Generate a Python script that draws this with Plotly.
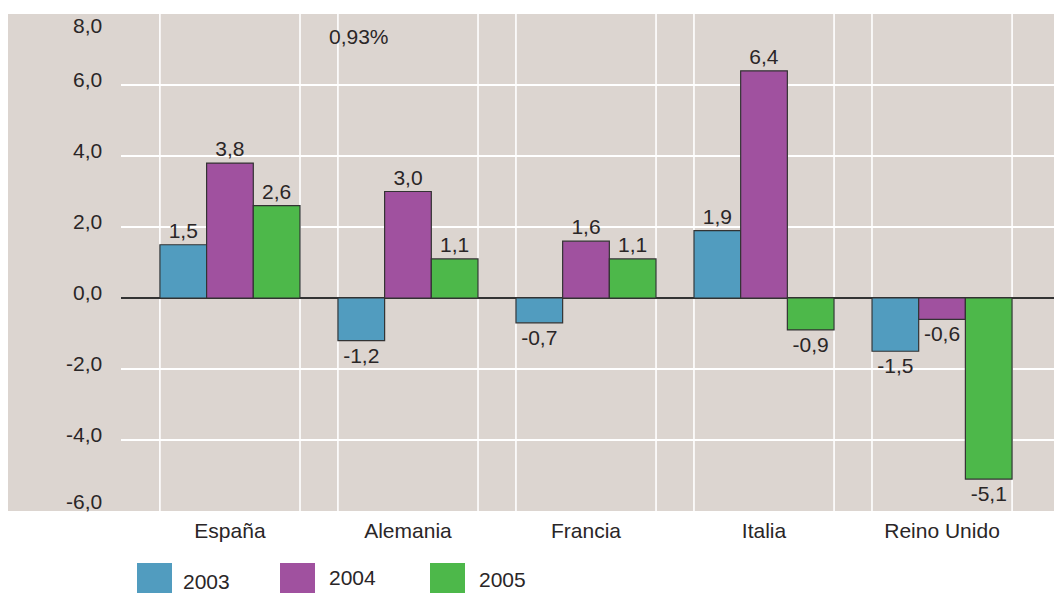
import plotly.graph_objects as go

# Data
countries = ["España", "Alemania", "Francia", "Italia", "Reino Unido"]
years = ["2003", "2004", "2005"]
v2003 = [1.5, -1.2, -0.7, 1.9, -1.5]
v2004 = [3.8, 3.0, 1.6, 6.4, -0.6]
v2005 = [2.6, 1.1, 1.1, -0.9, -5.1]
series = [v2003, v2004, v2005]
colors = ["#519CBF", "#A0519F", "#4DB84A"]
ytick_vals = [8, 6, 4, 2, 0, -2, -4, -6]
note_text = "0,93%"

# Layout geometry (pixels)
W, H = 1054, 593
ML, MR, MT, MB = 121, 0, 14, 82
PW, PH = W - ML - MR, H - MT - MB
BG = "#DCD5D0"
TXT = "#2A2627"
FONT = "Liberation Sans, Arial, sans-serif"
FS = 21
BARGAP = 0.213


def px_x(px):
    return (px - ML) / PW


def px_y(py):
    return (H - MB - py) / PH


def fmt(v):
    return f"{v:.1f}".replace(".", ",")


fig = go.Figure()
for name, vals, col in zip(years, series, colors):
    fig.add_trace(go.Bar(
        x=countries, y=vals, name=name,
        marker=dict(color=col, line=dict(color="#333333", width=1.2)),
        text=[fmt(v) for v in vals], textposition="outside",
        textfont=dict(size=FS, color=TXT, family=FONT),
        constraintext="none", cliponaxis=False, showlegend=False,
    ))

shapes = []
# gray panel extending left of the plotting area
shapes.append(dict(type="rect", xref="paper", yref="paper",
                   x0=px_x(8), x1=1, y0=0, y1=1,
                   fillcolor=BG, line=dict(width=0), layer="below"))
# white vertical lines at the edges of each group of bars
half = (1 - BARGAP) / 2
for i in range(len(countries)):
    for xv in (i - half, i + half):
        shapes.append(dict(type="line", xref="x", yref="paper",
                           x0=xv, x1=xv, y0=0, y1=1,
                           line=dict(color="white", width=1.6), layer="below"))

annotations = []
# y tick labels, nudged slightly above their gridlines
for v in ytick_vals:
    if v == max(ytick_vals):
        shift = -11
    elif v == min(ytick_vals):
        shift = 10
    else:
        shift = 6
    annotations.append(dict(x=px_x(104), xref="paper", y=v, yref="y",
                            text=fmt(v), showarrow=False, xanchor="right",
                            yanchor="middle", yshift=shift,
                            font=dict(size=FS, color=TXT, family=FONT)))

annotations.append(dict(x=px_x(327), xref="paper", y=px_y(37), yref="paper",
                        text=note_text, showarrow=False, xanchor="left",
                        yanchor="middle",
                        font=dict(size=FS, color=TXT, family=FONT)))

# legend: large colour squares with year labels
leg_sq_x = [137, 280, 430]
leg_tx_x = [181, 327, 477]
leg_tx_y = [581, 578, 579]
for name, col, sx, tx, ty in zip(years, colors, leg_sq_x, leg_tx_x, leg_tx_y):
    shapes.append(dict(type="rect", xref="paper", yref="paper",
                       x0=px_x(sx), x1=px_x(sx + 35),
                       y0=px_y(595), y1=px_y(563),
                       fillcolor=col, line=dict(width=0)))
    annotations.append(dict(x=px_x(tx), xref="paper", y=px_y(ty), yref="paper",
                            text=name, showarrow=False, xanchor="left",
                            yanchor="middle",
                            font=dict(size=FS, color=TXT, family=FONT)))

fig.update_layout(
    width=W, height=H,
    margin=dict(l=ML, r=MR, t=MT, b=MB, pad=0),
    paper_bgcolor="white", plot_bgcolor=BG,
    barmode="group", bargap=BARGAP, bargroupgap=0,
    font=dict(family=FONT, size=FS, color=TXT),
    shapes=shapes, annotations=annotations,
    showlegend=False,
)
fig.update_xaxes(
    range=[-0.612, 4.629], showgrid=False, zeroline=False, showline=False,
    ticks="", tickfont=dict(size=FS, color=TXT, family=FONT),
    ticklabelstandoff=5,
)
fig.update_yaxes(
    range=[-6, 8], tickvals=ytick_vals, showticklabels=False,
    showgrid=True, gridcolor="white", gridwidth=1.6,
    zeroline=True, zerolinecolor="#333333", zerolinewidth=1.6,
    showline=False, ticks="",
)

fig.write_html("out.html")
